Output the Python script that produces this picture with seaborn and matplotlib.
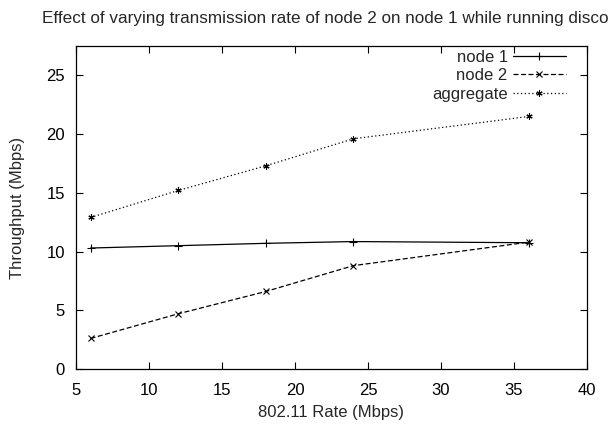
import matplotlib
matplotlib.use("Agg")
import matplotlib.pyplot as plt
import seaborn as sns
import pandas as pd

rates = [6, 12, 18, 24, 36]
node1 = [10.3, 10.5, 10.7, 10.85, 10.75]
node2 = [2.6, 4.7, 6.6, 8.8, 10.8]
aggregate = [12.9, 15.2, 17.3, 19.6, 21.5]
series_names = ["node 1", "node 2", "aggregate"]
xticks = [5, 10, 15, 20, 25, 30, 35, 40]
yticks = [0, 5, 10, 15, 20, 25]

sns.set_style("ticks")
plt.rcParams["font.family"] = ["Liberation Sans", "DejaVu Sans"]

fig = plt.figure(figsize=(6.15, 4.24), dpi=100)
ax = fig.add_axes([76/615, 1-369/424, (587-76)/615, (369-46)/424])

df = pd.DataFrame({"rate": rates * 3,
                   "tp": node1 + node2 + aggregate,
                   "series": sum([[n] * len(rates) for n in series_names], [])})

styles = {
    "node 1": dict(ls="-", marker="+", ms=6),
    "node 2": dict(ls=(0, (4, 2)), marker="x", ms=4.5),
    "aggregate": dict(ls=(0, (1, 2)), marker=(6, 2, 0), ms=4.5),
}
for name in series_names:
    sub = df[df.series == name]
    st = styles[name]
    sns.lineplot(data=sub, x="rate", y="tp", ax=ax, color="black", lw=0.9,
                 linestyle=st["ls"], marker=st["marker"], markersize=st["ms"],
                 markeredgewidth=0.8, markeredgecolor="black", label=name)

ax.set_xlim(5, 40)
ax.set_ylim(0, 27.5)
ax.set_xticks(xticks)
ax.set_yticks(yticks)
ax.tick_params(direction="in", top=True, right=True, length=5, width=0.8,
               labelsize=12, colors="black")
ax.tick_params(axis="x", pad=10)
ax.tick_params(axis="y", pad=8)
for s in ax.spines.values():
    s.set_linewidth(0.9)
    s.set_color("black")
ax.set_xlabel("802.11 Rate (Mbps)", fontsize=12, labelpad=5)
ax.set_ylabel("Throughput (Mbps)", fontsize=12, labelpad=15)

leg = ax.legend(loc="upper right", bbox_to_anchor=((566-76)/511, 1.0 - 4/323), frameon=False,
                markerfirst=False, handlelength=3.2, fontsize=12,
                labelspacing=0.2, handletextpad=0.3, borderaxespad=0.0, borderpad=0.0)
for t in leg.get_texts():
    t.set_ha("right")

fig.text(42/615, 1-19/424, "Effect of varying transmission rate of node 2 on node 1 while running disco",
         fontsize=12.3, ha="left", va="center")

fig.savefig("out.png", dpi=100)
